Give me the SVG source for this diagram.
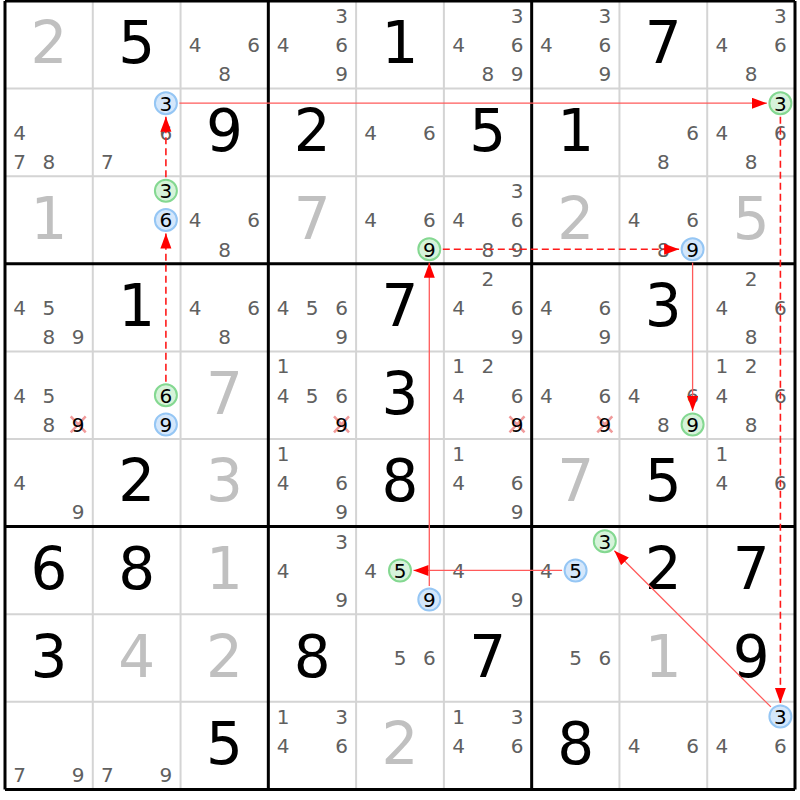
<svg xmlns="http://www.w3.org/2000/svg" width="800" height="800" viewBox="0 0 800 800">
<defs>
<style>
.thin{stroke:#d4d4d4;stroke-width:2;fill:none}
.thick{stroke:#000;stroke-width:3;fill:none}
text{font-family:"DejaVu Sans","Liberation Sans",sans-serif;text-anchor:middle}
.c{font-size:20px;fill:#606060}
.k{font-size:20px;fill:#000}
.gv{font-size:58px;fill:#c0c0c0}
.pl{font-size:58px;fill:#000}
.cb{fill:#d4e7fb;stroke:#95c6f4;stroke-width:2}
.cg{fill:#d6f3da;stroke:#84d891;stroke-width:2}
.x{stroke:#f09a9a;stroke-width:2.5;fill:none}
.ls{stroke:#ff5a5a;stroke-width:1.3;fill:none;marker-end:url(#ah)}
.ld{stroke:#ff1a1a;stroke-width:1.6;fill:none;stroke-dasharray:7 4;marker-end:url(#ah)}
</style>
<marker id="ah" markerUnits="userSpaceOnUse" markerWidth="16" markerHeight="12" refX="15" refY="5.5" orient="auto">
<path d="M0,0 L15,5.5 L0,11 z" fill="#ff0000"/>
</marker>
</defs>
<rect x="0" y="0" width="800" height="800" fill="#fff"/>
<g id="grid">
<path class="thin" d="M92.78,1V789.4M180.56,1V789.4M356.11,1V789.4M443.89,1V789.4M619.44,1V789.4M707.22,1V789.4M5,88.6H795M5,176.2H795M5,351.4H795M5,439H795M5,614.2H795M5,701.8H795"/>
<path class="thick" d="M5,1V789.4M268.33,1V789.4M531.67,1V789.4M795,1V789.4M5,1H795M5,263.8H795M5,526.6H795M5,789.4H795"/>
</g>
<g id="r0c0"><text class="gv" x="48.9" y="63.4">2</text></g>
<g id="r0c1"><text class="pl" x="136.7" y="63.4">5</text></g>
<g id="r0c2"><text class="c" x="195.2" y="52.1">4</text><text class="c" x="253.7" y="52.1">6</text><text class="c" x="224.5" y="81.3">8</text></g>
<g id="r0c3"><text class="c" x="341.5" y="22.9">3</text><text class="c" x="283" y="52.1">4</text><text class="c" x="341.5" y="52.1">6</text><text class="c" x="341.5" y="81.3">9</text></g>
<g id="r0c4"><text class="pl" x="400" y="63.4">1</text></g>
<g id="r0c5"><text class="c" x="517" y="22.9">3</text><text class="c" x="458.5" y="52.1">4</text><text class="c" x="517" y="52.1">6</text><text class="c" x="487.8" y="81.3">8</text><text class="c" x="517" y="81.3">9</text></g>
<g id="r0c6"><text class="c" x="604.8" y="22.9">3</text><text class="c" x="546.3" y="52.1">4</text><text class="c" x="604.8" y="52.1">6</text><text class="c" x="604.8" y="81.3">9</text></g>
<g id="r0c7"><text class="pl" x="663.3" y="63.4">7</text></g>
<g id="r0c8"><text class="c" x="780.4" y="22.9">3</text><text class="c" x="721.9" y="52.1">4</text><text class="c" x="780.4" y="52.1">6</text><text class="c" x="751.1" y="81.3">8</text></g>

<g id="r1c0"><text class="c" x="19.6" y="139.7">4</text><text class="c" x="19.6" y="168.9">7</text><text class="c" x="48.9" y="168.9">8</text></g>
<g id="r1c1"><circle class="cb" cx="165.9" cy="103.2" r="11"/><text class="k" x="165.9" y="110.5">3</text><text class="c" x="165.9" y="139.7">6</text><text class="c" x="107.4" y="168.9">7</text></g>
<g id="r1c2"><text class="pl" x="224.5" y="151">9</text></g>
<g id="r1c3"><text class="pl" x="312.2" y="151">2</text></g>
<g id="r1c4"><text class="c" x="370.7" y="139.7">4</text><text class="c" x="429.3" y="139.7">6</text></g>
<g id="r1c5"><text class="pl" x="487.8" y="151">5</text></g>
<g id="r1c6"><text class="pl" x="575.6" y="151">1</text></g>
<g id="r1c7"><text class="c" x="692.6" y="139.7">6</text><text class="c" x="663.3" y="168.9">8</text></g>
<g id="r1c8"><circle class="cg" cx="780.4" cy="103.2" r="11"/><text class="k" x="780.4" y="110.5">3</text><text class="c" x="721.9" y="139.7">4</text><text class="c" x="780.4" y="139.7">6</text><text class="c" x="751.1" y="168.9">8</text></g>

<g id="r2c0"><text class="gv" x="48.9" y="238.6">1</text></g>
<g id="r2c1"><circle class="cg" cx="165.9" cy="190.8" r="11"/><text class="k" x="165.9" y="198.1">3</text><circle class="cb" cx="165.9" cy="220" r="11"/><text class="k" x="165.9" y="227.3">6</text></g>
<g id="r2c2"><text class="c" x="195.2" y="227.3">4</text><text class="c" x="253.7" y="227.3">6</text><text class="c" x="224.5" y="256.5">8</text></g>
<g id="r2c3"><text class="gv" x="312.2" y="238.6">7</text></g>
<g id="r2c4"><text class="c" x="370.7" y="227.3">4</text><text class="c" x="429.3" y="227.3">6</text><circle class="cg" cx="429.3" cy="249.2" r="11"/><text class="k" x="429.3" y="256.5">9</text></g>
<g id="r2c5"><text class="c" x="517" y="198.1">3</text><text class="c" x="458.5" y="227.3">4</text><text class="c" x="517" y="227.3">6</text><text class="c" x="487.8" y="256.5">8</text><text class="c" x="517" y="256.5">9</text></g>
<g id="r2c6"><text class="gv" x="575.6" y="238.6">2</text></g>
<g id="r2c7"><text class="c" x="634.1" y="227.3">4</text><text class="c" x="692.6" y="227.3">6</text><text class="c" x="663.3" y="256.5">8</text><circle class="cb" cx="692.6" cy="249.2" r="11"/><text class="k" x="692.6" y="256.5">9</text></g>
<g id="r2c8"><text class="gv" x="751.1" y="238.6">5</text></g>

<g id="r3c0"><text class="c" x="19.6" y="314.9">4</text><text class="c" x="48.9" y="314.9">5</text><text class="c" x="48.9" y="344.1">8</text><text class="c" x="78.2" y="344.1">9</text></g>
<g id="r3c1"><text class="pl" x="136.7" y="326.2">1</text></g>
<g id="r3c2"><text class="c" x="195.2" y="314.9">4</text><text class="c" x="253.7" y="314.9">6</text><text class="c" x="224.5" y="344.1">8</text></g>
<g id="r3c3"><text class="c" x="283" y="314.9">4</text><text class="c" x="312.2" y="314.9">5</text><text class="c" x="341.5" y="314.9">6</text><text class="c" x="341.5" y="344.1">9</text></g>
<g id="r3c4"><text class="pl" x="400" y="326.2">7</text></g>
<g id="r3c5"><text class="c" x="487.8" y="285.7">2</text><text class="c" x="458.5" y="314.9">4</text><text class="c" x="517" y="314.9">6</text><text class="c" x="517" y="344.1">9</text></g>
<g id="r3c6"><text class="c" x="546.3" y="314.9">4</text><text class="c" x="604.8" y="314.9">6</text><text class="c" x="604.8" y="344.1">9</text></g>
<g id="r3c7"><text class="pl" x="663.3" y="326.2">3</text></g>
<g id="r3c8"><text class="c" x="751.1" y="285.7">2</text><text class="c" x="721.9" y="314.9">4</text><text class="c" x="780.4" y="314.9">6</text><text class="c" x="751.1" y="344.1">8</text></g>

<g id="r4c0"><text class="c" x="19.6" y="402.5">4</text><text class="c" x="48.9" y="402.5">5</text><text class="c" x="48.9" y="431.7">8</text><path class="x" d="M70.7,416.4L85.7,432.4M85.7,416.4L70.7,432.4"/><text class="k" x="78.2" y="431.7">9</text></g>
<g id="r4c1"><circle class="cg" cx="165.9" cy="395.2" r="11"/><text class="k" x="165.9" y="402.5">6</text><circle class="cb" cx="165.9" cy="424.4" r="11"/><text class="k" x="165.9" y="431.7">9</text></g>
<g id="r4c2"><text class="gv" x="224.5" y="413.8">7</text></g>
<g id="r4c3"><text class="c" x="283" y="373.3">1</text><text class="c" x="283" y="402.5">4</text><text class="c" x="312.2" y="402.5">5</text><text class="c" x="341.5" y="402.5">6</text><path class="x" d="M334,416.4L349,432.4M349,416.4L334,432.4"/><text class="k" x="341.5" y="431.7">9</text></g>
<g id="r4c4"><text class="pl" x="400" y="413.8">3</text></g>
<g id="r4c5"><text class="c" x="458.5" y="373.3">1</text><text class="c" x="487.8" y="373.3">2</text><text class="c" x="458.5" y="402.5">4</text><text class="c" x="517" y="402.5">6</text><path class="x" d="M509.5,416.4L524.5,432.4M524.5,416.4L509.5,432.4"/><text class="k" x="517" y="431.7">9</text></g>
<g id="r4c6"><text class="c" x="546.3" y="402.5">4</text><text class="c" x="604.8" y="402.5">6</text><path class="x" d="M597.3,416.4L612.3,432.4M612.3,416.4L597.3,432.4"/><text class="k" x="604.8" y="431.7">9</text></g>
<g id="r4c7"><text class="c" x="634.1" y="402.5">4</text><text class="c" x="692.6" y="402.5">6</text><text class="c" x="663.3" y="431.7">8</text><circle class="cg" cx="692.6" cy="424.4" r="11"/><text class="k" x="692.6" y="431.7">9</text></g>
<g id="r4c8"><text class="c" x="721.9" y="373.3">1</text><text class="c" x="751.1" y="373.3">2</text><text class="c" x="721.9" y="402.5">4</text><text class="c" x="780.4" y="402.5">6</text><text class="c" x="751.1" y="431.7">8</text></g>

<g id="r5c0"><text class="c" x="19.6" y="490.1">4</text><text class="c" x="78.2" y="519.3">9</text></g>
<g id="r5c1"><text class="pl" x="136.7" y="501.4">2</text></g>
<g id="r5c2"><text class="gv" x="224.5" y="501.4">3</text></g>
<g id="r5c3"><text class="c" x="283" y="460.9">1</text><text class="c" x="283" y="490.1">4</text><text class="c" x="341.5" y="490.1">6</text><text class="c" x="341.5" y="519.3">9</text></g>
<g id="r5c4"><text class="pl" x="400" y="501.4">8</text></g>
<g id="r5c5"><text class="c" x="458.5" y="460.9">1</text><text class="c" x="458.5" y="490.1">4</text><text class="c" x="517" y="490.1">6</text><text class="c" x="517" y="519.3">9</text></g>
<g id="r5c6"><text class="gv" x="575.6" y="501.4">7</text></g>
<g id="r5c7"><text class="pl" x="663.3" y="501.4">5</text></g>
<g id="r5c8"><text class="c" x="721.9" y="460.9">1</text><text class="c" x="721.9" y="490.1">4</text><text class="c" x="780.4" y="490.1">6</text></g>

<g id="r6c0"><text class="pl" x="48.9" y="589">6</text></g>
<g id="r6c1"><text class="pl" x="136.7" y="589">8</text></g>
<g id="r6c2"><text class="gv" x="224.5" y="589">1</text></g>
<g id="r6c3"><text class="c" x="341.5" y="548.5">3</text><text class="c" x="283" y="577.7">4</text><text class="c" x="341.5" y="606.9">9</text></g>
<g id="r6c4"><text class="c" x="370.7" y="577.7">4</text><circle class="cg" cx="400" cy="570.4" r="11"/><text class="k" x="400" y="577.7">5</text><circle class="cb" cx="429.3" cy="599.6" r="11"/><text class="k" x="429.3" y="606.9">9</text></g>
<g id="r6c5"><text class="c" x="458.5" y="577.7">4</text><text class="c" x="517" y="606.9">9</text></g>
<g id="r6c6"><circle class="cg" cx="604.8" cy="541.2" r="11"/><text class="k" x="604.8" y="548.5">3</text><text class="c" x="546.3" y="577.7">4</text><circle class="cb" cx="575.6" cy="570.4" r="11"/><text class="k" x="575.6" y="577.7">5</text></g>
<g id="r6c7"><text class="pl" x="663.3" y="589">2</text></g>
<g id="r6c8"><text class="pl" x="751.1" y="589">7</text></g>

<g id="r7c0"><text class="pl" x="48.9" y="676.6">3</text></g>
<g id="r7c1"><text class="gv" x="136.7" y="676.6">4</text></g>
<g id="r7c2"><text class="gv" x="224.5" y="676.6">2</text></g>
<g id="r7c3"><text class="pl" x="312.2" y="676.6">8</text></g>
<g id="r7c4"><text class="c" x="400" y="665.3">5</text><text class="c" x="429.3" y="665.3">6</text></g>
<g id="r7c5"><text class="pl" x="487.8" y="676.6">7</text></g>
<g id="r7c6"><text class="c" x="575.6" y="665.3">5</text><text class="c" x="604.8" y="665.3">6</text></g>
<g id="r7c7"><text class="gv" x="663.3" y="676.6">1</text></g>
<g id="r7c8"><text class="pl" x="751.1" y="676.6">9</text></g>

<g id="r8c0"><text class="c" x="19.6" y="782.1">7</text><text class="c" x="78.2" y="782.1">9</text></g>
<g id="r8c1"><text class="c" x="107.4" y="782.1">7</text><text class="c" x="165.9" y="782.1">9</text></g>
<g id="r8c2"><text class="pl" x="224.5" y="764.2">5</text></g>
<g id="r8c3"><text class="c" x="283" y="723.7">1</text><text class="c" x="341.5" y="723.7">3</text><text class="c" x="283" y="752.9">4</text><text class="c" x="341.5" y="752.9">6</text></g>
<g id="r8c4"><text class="gv" x="400" y="764.2">2</text></g>
<g id="r8c5"><text class="c" x="458.5" y="723.7">1</text><text class="c" x="517" y="723.7">3</text><text class="c" x="458.5" y="752.9">4</text><text class="c" x="517" y="752.9">6</text></g>
<g id="r8c6"><text class="pl" x="575.6" y="764.2">8</text></g>
<g id="r8c7"><text class="c" x="634.1" y="752.9">4</text><text class="c" x="692.6" y="752.9">6</text></g>
<g id="r8c8"><circle class="cb" cx="780.4" cy="716.4" r="11"/><text class="k" x="780.4" y="723.7">3</text><text class="c" x="721.9" y="752.9">4</text><text class="c" x="780.4" y="752.9">6</text></g>

<g id="connectors">
<line class="ld" x1="165.9" y1="381.7" x2="165.9" y2="233.5"/>
<line class="ld" x1="165.9" y1="177.3" x2="165.9" y2="116.7"/>
<line class="ls" x1="179.4" y1="103.2" x2="766.9" y2="103.2"/>
<line class="ld" x1="780.4" y1="116.7" x2="780.4" y2="702.9"/>
<line class="ls" x1="770.85" y1="706.9" x2="614.35" y2="550.7"/>
<line class="ls" x1="562.1" y1="570.4" x2="413.5" y2="570.4"/>
<line class="ls" x1="429.3" y1="586.1" x2="429.3" y2="262.7"/>
<line class="ld" x1="442.8" y1="249.2" x2="679.1" y2="249.2"/>
<line class="ls" x1="692.6" y1="262.7" x2="692.6" y2="410.9"/>
</g>
</svg>
